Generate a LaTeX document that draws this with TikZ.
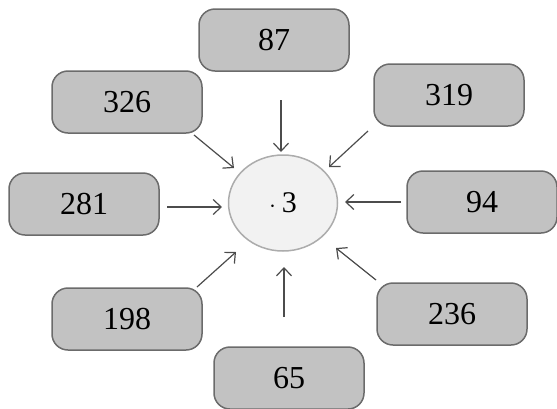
\documentclass[tikz,border=0pt]{standalone}
\usepackage{fontspec}
\setmainfont{Liberation Serif}
\usetikzlibrary{arrows.meta,shapes.geometric}
\definecolor{boxfill}{gray}{0.76}
\definecolor{boxline}{gray}{0.42}
\definecolor{arrowcol}{gray}{0.3}
\tikzset{
  numbox/.style={draw=boxline, line width=1.5pt, fill=boxfill, rounded corners=16pt,
    minimum width=150pt, minimum height=62pt, inner sep=0pt, font=\fontsize{32}{32}\selectfont},
  centre/.style={draw=gray!65, line width=1.5pt, fill=gray!10, ellipse, minimum width=109pt,
    minimum height=96pt, inner sep=0pt, font=\fontsize{30}{30}\selectfont},
  inarrow/.style={draw=arrowcol, line width=1.2pt, -{Straight Barb[length=8pt,width=15pt]}}
}
\begin{document}
\begin{tikzpicture}[x=1pt,y=-1pt]
\useasboundingbox (0,0) rectangle (557,408);
\node[centre] (c) at (283,203) {$\cdot$\hspace{6pt}3};
\node[numbox] (n87) at (274,40) {87};
\node[numbox] (n326) at (127,102) {326};
\node[numbox] (n319) at (449,95) {319};
\node[numbox] (n281) at (84,204) {281};
\node[numbox] (n94) at (482,202) {94};
\node[numbox] (n198) at (127,319) {198};
\node[numbox] (n236) at (452,314) {236};
\node[numbox] (n65) at (289,378) {65};
\coordinate (s87) at (281,100); \coordinate (e87) at (281,152);
\coordinate (s326) at (194,135); \coordinate (e326) at (234,168);
\coordinate (s319) at (368,131); \coordinate (e319) at (329,167);
\coordinate (s281) at (167,207); \coordinate (e281) at (222,207);
\coordinate (s94) at (401,202); \coordinate (e94) at (345,202);
\coordinate (s198) at (197,287); \coordinate (e198) at (236,252);
\coordinate (s236) at (376,280); \coordinate (e236) at (336,248);
\coordinate (s65) at (284,317); \coordinate (e65) at (284,267);
\foreach \n in {87,326,319,281,94,198,236,65}{
  \draw[inarrow] (s\n) -- (e\n);
}
\end{tikzpicture}
\end{document}
